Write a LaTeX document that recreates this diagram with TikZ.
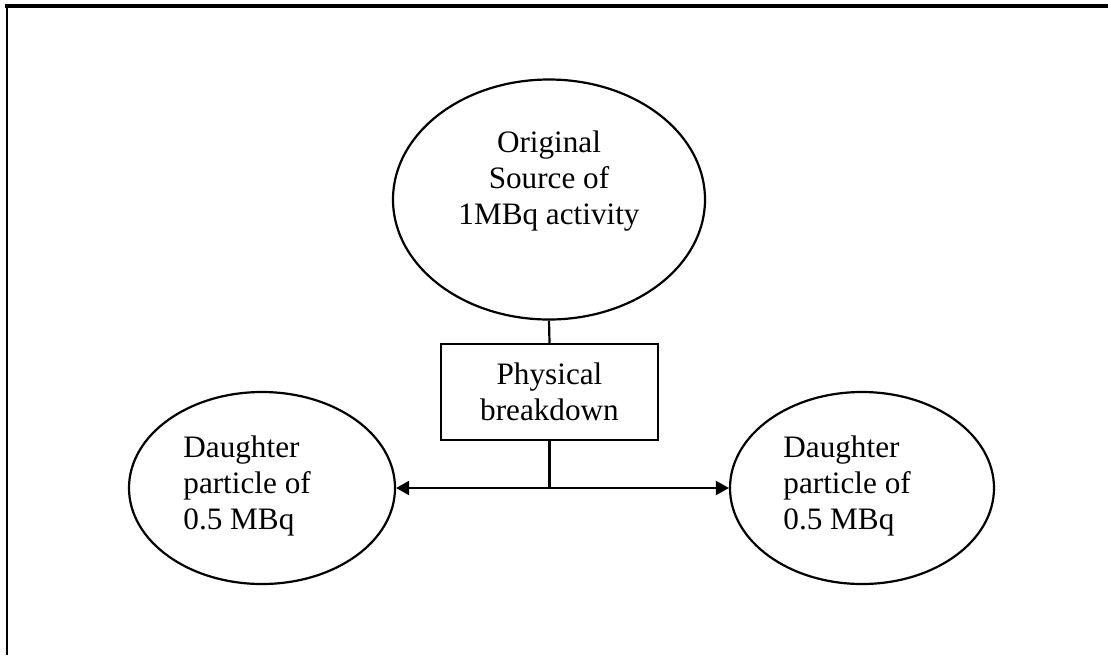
\documentclass[tikz,border=0pt]{standalone}
\usepackage{fontspec}
\setmainfont{Liberation Serif}
\usetikzlibrary{shapes.geometric,arrows.meta,positioning}
\begin{document}
\begin{tikzpicture}[x=0.5pt,y=-0.5pt,
    blob/.style={draw,ellipse,line width=1.1pt,inner sep=0pt},
    lbl/.style={inner sep=0pt,font=\fontsize{15.6}{18}\selectfont},
    link/.style={line width=1.1pt},
    tip/.style={link,-{Triangle[length=6.5pt,width=7pt]}}]
  \useasboundingbox (0,0) rectangle (1108,655);
  \draw[line width=1.6pt] (5,6) -- (1108,6);
  \draw[line width=1.1pt] (7,6) -- (7,655);
  \node[blob,minimum width=156pt,minimum height=120pt] (src) at (549,199.5) {};
  \node[lbl,align=center] (srctext) at (549,181) {Original\\Source of\\1MBq activity};
  \node[draw,line width=1.1pt,lbl,align=center,minimum width=108.5pt,minimum height=48pt] (brk) at (549.5,392) {Physical\\breakdown};
  \node[blob,minimum width=133pt,minimum height=96pt] (dl) at (262,488) {};
  \node[blob,minimum width=132pt,minimum height=96pt] (dr) at (862,488) {};
  \node[lbl,align=left,anchor=west] (dltext) at (183,486) {Daughter\\particle of\\0.5 MBq};
  \node[lbl,align=left,anchor=west] (drtext) at (783,486) {Daughter\\particle of\\0.5 MBq};
  \coordinate (split) at (brk.south |- dl.east);
  \draw[link] (src.south) -- (brk.north);
  \draw[link] (brk.south) -- (split);
  \draw[tip] (split) -- (dl.east);
  \draw[tip] (split) -- (dr.west);
\end{tikzpicture}
\end{document}
